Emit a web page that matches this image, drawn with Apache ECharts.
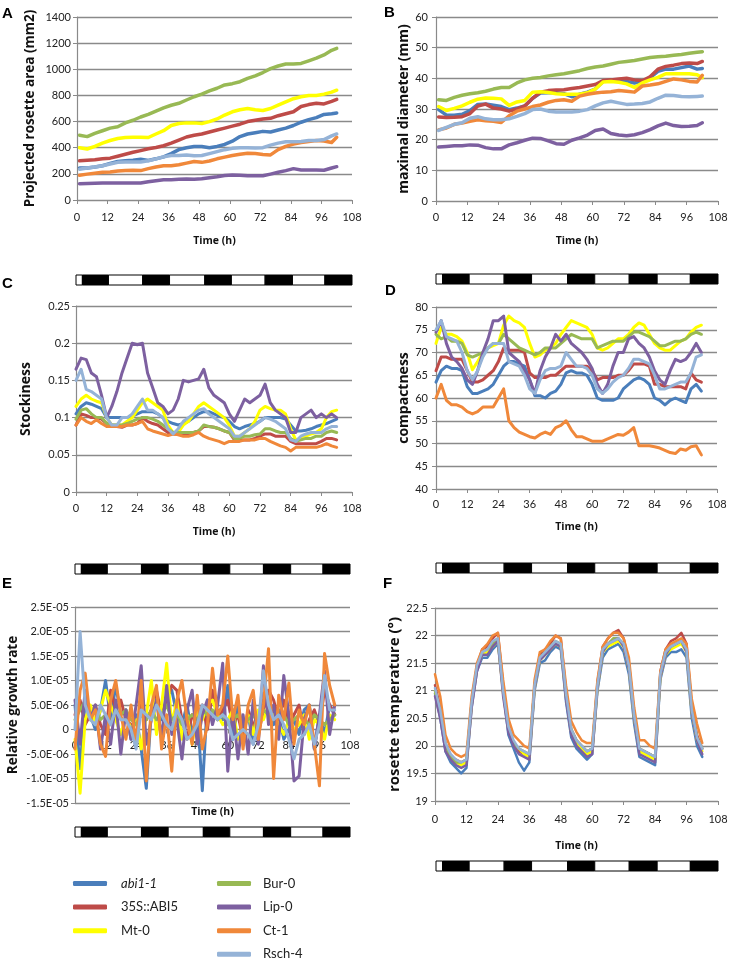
<!DOCTYPE html>
<html><head><meta charset="utf-8">
<script src="https://cdn.jsdelivr.net/npm/echarts@6/dist/echarts.min.js"></script>
<style>html,body{margin:0;padding:0;background:#fff}#c{width:730px;height:959px}</style>
</head><body><div id="c"></div>
<script>
// ---- series names / colours (legend order) ----
const names = ['abi1-1','35S::ABI5','Mt-0','Bur-0','Lip-0','Ct-1','Rsch-4'];
const colors = ['#4A7EBB','#BE4B48','#FFFF00','#98B954','#7D60A0','#F0883A','#95B3D7'];

// ---- time points (h) ----
const timeAB = [1,4,7,10,13,16,19,22,25,28,31,34,37,40,43,46,49,52,55,58,61,64,67,70,73,76,79,82,85,88,91,94,97,100,102];
const timeCF = [0,2,4,6,8,10,12,14,16,18,20,22,24,26,28,30,32,34,36,38,40,42,44,46,48,50,52,54,56,58,60,62,64,66,68,70,72,74,76,78,80,82,84,86,88,90,92,94,96,98,100,102];

// ---- light / dark periods [start h, end h, dark?] ----
const photoperiod = [[0,2.5,0],[2.5,12.7,1],[12.7,26.1,0],[26.1,36.6,1],[36.6,50.4,0],[50.4,60.8,1],[60.8,74,0],[74,84.7,1],[84.7,97.4,0],[97.4,108,1]];

// ---- A: projected rosette area (mm2), rows in names order ----
const rosetteArea = [
 [245,245,252,262,280,295,300,305,312,302,315,330,355,385,400,410,410,400,410,425,450,485,505,515,525,520,535,550,570,595,615,630,655,660,665],
 [300,305,308,315,320,335,350,365,378,392,402,415,435,458,482,495,505,520,535,550,565,580,600,610,620,625,645,660,675,715,730,740,735,755,770],
 [400,390,410,435,455,470,478,480,480,478,505,530,570,585,590,590,585,600,620,650,675,690,700,690,685,700,725,750,775,790,800,800,810,825,840],
 [495,485,510,530,550,560,590,610,635,655,680,705,725,740,765,790,810,835,855,880,890,905,930,950,975,1005,1025,1040,1040,1045,1065,1085,1110,1145,1160],
 [125,127,128,130,130,130,130,130,130,140,148,155,155,158,160,158,162,170,178,188,192,190,185,185,185,198,212,225,240,230,230,230,228,245,255],
 [190,198,205,212,215,222,226,228,225,240,252,262,262,270,282,295,288,298,315,328,340,350,358,355,348,345,385,410,428,440,448,455,452,440,480],
 [235,245,252,262,275,288,290,290,290,300,315,330,340,340,345,338,340,355,370,385,395,400,400,398,400,420,435,445,445,448,455,455,462,490,505]
];

// ---- B: maximal diameter (mm) ----
const maxDiameter = [
 [29.8,28,28,28.3,29.5,31.5,31.6,31.2,30.8,29.8,30.3,31,33.5,35.2,35.3,35.3,35,34,34.8,35.5,36.5,39,39.5,39.3,39,38.5,39,40.2,42.3,43,43,43.5,44,43,43.2],
 [27.4,27.2,27.3,27.5,28.5,31,31.6,30.3,30,29.3,30,31,33.5,35.5,36,36.2,36.3,36.7,37,37.5,38,39.3,39.5,39.8,40,39.5,39.2,40.5,43,43.9,44.3,44.8,45,44.8,45.5],
 [30.8,29.5,30.2,31,32.2,33.2,33.6,33.5,33.3,31.2,32.3,32.8,35.5,35.6,35.4,35,34.8,34.8,34.8,35.3,36.5,38.8,39,38.7,38.2,37,38.5,39.5,40.3,41.5,41.5,41.5,41.5,41.2,40.2],
 [33,32.8,33.8,34.5,35,35.3,35.8,36.5,37,37,38.5,39.5,40,40.3,40.8,41.2,41.5,42,42.5,43.2,43.7,44,44.6,45.2,45.5,45.8,46.3,46.8,47,47.2,47.5,47.8,48.2,48.5,48.7],
 [17.6,17.8,18,18,18.3,18.2,17.4,17,17,18.3,19,19.8,20.5,20.4,19.6,18.7,18.5,19.8,20.6,21.5,23,23.5,22,21.5,21.3,21.6,22.3,23.3,24.5,25.4,24.6,24.3,24.4,24.6,25.5],
 [23.2,23.8,25,25.4,26,26.5,26.2,26,25.6,27.8,29.3,30,30.8,31.3,32.2,32.8,33,32.5,34.2,34.8,35.2,35.5,35.6,36,35.8,35.5,37.5,37.8,38.2,39,39.8,39.5,39,38.8,41],
 [23,24,25,25.5,27,27.5,26.8,26.5,26.5,26.8,27.6,28.5,29.8,30,29.3,29,29,29,29.3,29.8,31,32,32.5,32,31.5,31.6,31.8,32.3,33.5,34.5,34.4,34.1,34,34.1,34.2]
];

// ---- C: stockiness ----
const stockiness = [
 [0.105,0.115,0.12,0.118,0.115,0.112,0.1,0.1,0.1,0.1, 0.1,0.102,0.105,0.108,0.108,0.108,0.105,0.1,0.095,0.092, 0.09,0.092,0.095,0.1,0.105,0.108,0.108,0.105,0.102,0.1, 0.095,0.088,0.085,0.088,0.09,0.092,0.095,0.1,0.1,0.1, 0.1,0.098,0.09,0.082,0.082,0.083,0.085,0.088,0.09,0.092, 0.095,0.098],
 [0.09,0.105,0.103,0.1,0.1,0.098,0.092,0.09,0.088,0.087, 0.09,0.09,0.092,0.1,0.095,0.092,0.09,0.085,0.08,0.078, 0.078,0.078,0.078,0.08,0.082,0.088,0.088,0.087,0.085,0.082, 0.08,0.07,0.07,0.07,0.07,0.072,0.075,0.078,0.078,0.075, 0.075,0.075,0.068,0.065,0.065,0.065,0.065,0.065,0.068,0.072, 0.072,0.07],
 [0.115,0.125,0.13,0.125,0.122,0.12,0.1,0.09,0.09,0.09, 0.095,0.1,0.11,0.12,0.125,0.12,0.115,0.11,0.09,0.08, 0.08,0.09,0.095,0.105,0.115,0.12,0.115,0.11,0.105,0.1, 0.09,0.075,0.075,0.08,0.085,0.095,0.11,0.115,0.112,0.11, 0.11,0.105,0.085,0.07,0.072,0.075,0.078,0.08,0.085,0.1, 0.108,0.11],
 [0.098,0.11,0.112,0.105,0.1,0.1,0.092,0.09,0.09,0.09, 0.092,0.095,0.098,0.1,0.1,0.098,0.095,0.09,0.085,0.08, 0.08,0.08,0.08,0.08,0.082,0.09,0.088,0.087,0.085,0.082, 0.08,0.072,0.072,0.075,0.075,0.077,0.078,0.085,0.085,0.082, 0.08,0.08,0.072,0.068,0.07,0.072,0.072,0.075,0.075,0.08, 0.082,0.08],
 [0.165,0.18,0.178,0.16,0.155,0.13,0.1,0.115,0.135,0.16, 0.18,0.2,0.198,0.2,0.16,0.14,0.12,0.115,0.105,0.11, 0.125,0.15,0.148,0.15,0.152,0.165,0.14,0.13,0.125,0.12, 0.105,0.095,0.11,0.125,0.12,0.125,0.13,0.145,0.12,0.11, 0.105,0.1,0.08,0.08,0.1,0.105,0.11,0.1,0.105,0.1, 0.105,0.1],
 [0.09,0.1,0.095,0.092,0.097,0.092,0.088,0.088,0.088,0.088, 0.09,0.09,0.092,0.095,0.085,0.082,0.08,0.078,0.076,0.078, 0.077,0.075,0.075,0.077,0.08,0.075,0.072,0.07,0.068,0.065, 0.068,0.068,0.068,0.07,0.07,0.07,0.072,0.072,0.068,0.065, 0.062,0.06,0.055,0.06,0.06,0.06,0.06,0.06,0.062,0.065, 0.062,0.06],
 [0.15,0.165,0.138,0.135,0.13,0.125,0.1,0.09,0.09,0.1, 0.1,0.105,0.115,0.125,0.11,0.11,0.105,0.1,0.085,0.078, 0.085,0.095,0.1,0.105,0.11,0.112,0.105,0.1,0.095,0.09, 0.085,0.075,0.075,0.08,0.085,0.09,0.095,0.1,0.098,0.095, 0.09,0.085,0.07,0.068,0.075,0.078,0.08,0.08,0.08,0.085, 0.088,0.088]
];

// ---- D: compactness ----
const compactness = [
 [63.5,66,67,66.5,66.5,66,62.5,61,61,61.5, 62,63,65,67,68,68,67.5,67,64,60.5, 60.5,60,61,61.5,63,65.5,66,65.5,65.5,65, 63,60,59.5,59.5,59.5,60,62,63,64,64.5, 64,63,60,59.5,58.5,59.5,60,59.5,59,62, 63,61.5],
 [66,69,69,68.5,68.5,68.5,66,63.5,63.5,64, 65,66,68,71,70.5,70.5,70.5,70,65.5,64.5, 64.5,64.5,65,65,66,67,67,67,67,67, 66,64,64.5,64.5,64.5,65,65,66,67.5,67.5, 67.5,67,63,63,62.5,62.5,62.5,62.5,62,65.5, 64,63.5],
 [72,75.5,74,74,73.5,72.5,70,66.2,68,70, 71,71.5,72,76,78,77,76.5,75.5,72,69, 69.5,70.5,71,72,74,75.5,77,76.5,76,75.5, 74,71,70.5,71,72,73,73,74,75.5,76.5, 76,74,72,71,70.5,70.5,71.5,72.5,73,74.5, 75.5,76],
 [74,73,73.5,72.5,72.5,72,69.5,69,69.5,70, 71,72,72,74,73,72,71,70.5,70,69.5, 70,71,71,71,72,73,74,73.5,73,73, 73,71,71.5,72,72.5,72.5,72.5,73.5,74.5,74.5, 74,73.5,72.5,71.5,71.5,72,72.5,72.5,73,74, 74.5,74],
 [74.5,77,72,69,68,66.5,64,63,66,70, 73,77,77,78,70,69,68,66,64,61, 66,69,71,74,72.5,74,72,71,70,68.5, 66.5,63,61,63,67,70,70,73,73.5,72, 71,69,66,64,63,66,68.5,68,68.5,70, 72,70],
 [60,63,59.5,58.5,58.5,58,57,56.5,57,58, 58,58,60,62,55,53.5,52.5,52,51.5,51.2, 52,52.5,52,53.5,54,55,53,51.5,51.5,51, 50.5,50.5,50.5,51,51.5,52,51.8,52.5,53.5,49.5, 49.5,49.5,49.3,49,48.5,48,47.8,48.8,48.5,49.3, 49.5,47.5],
 [75,77,73.5,73,72.5,70,66,64,66,69, 71,72,72,72,68,67.5,67,65,62,61, 64,66,66.5,66.5,67,70,68.5,67,67,66.5, 65,62,61,62,63.5,64.5,65,66.5,68.5,68.5, 68,67.5,65,62,62,62.5,63,63.5,63.5,65.5, 69,69.5]
];

// ---- E: relative growth rate, in units of 1E-06 ----
const growthRate = [
 [5,-8,6,3,0,4,10,2,9,3, 4,-2,3,-4,-12,4,6,2,7,8, 3,1,5,-1,4,-12.5,6,3,4,2, 9,-2,5,0,3,-3,2,6,4,1, 3,-2,0,2,-1,4,5,-4,3,-1, 5,3],
 [3,6,1,3,5,1,-1,8,4,6, 2,1,-3,5,2,4,8,3,6,9, 8,2,-2,3,1,5,0,8,2,4, 6,1,3,-2,4,1,-1,4,8,6, 2,6,1,3,5,-1,2,4,1,8, 5,3],
 [-2,-13,2,5,1,4,8,5,2,-1, 3,0,2,-4,3,10,-1,5,13.5,1, 6,-2,3,-3,4,2,5,6,3,1, 2,4,-2,1,3,-1,4,2,5,3, 1,-1,2,0,1,3,-2,2,1,-2, 3,2],
 [2,4,6,3,4,2,3,1,4,3, 4,2,1,3,2,4,2,3,5,2, 3,1,2,3,2,4,3,4,2,3, 1,2,3,1,2,3,1,4,3,2, 4,3,1,2,3,2,1,3,2,1, 2,3],
 [6,-3,8,2,5,-4,3,-3,6,-5, 4,-2,5,13,-3,2,6,-2,9,-1, 2,-6,4,8,-3,3,6,1,5,13.5, -8.5,4,-6,3,-5,6,-3,13,1,5, -2,11,3,-10.5,-9.5,2,5,-4,3,12, -1,5],
 [-4,8,11.5,2,4,-3,-5.5,6,10,3, -2,5,-3,10,-10.5,5,9,-4,3,-8.5, 6,10,2,-3,7,-4,1,12.5,3,5, 15,2,7,-4,5,8,-2,5,16.5,-10, 7,2,9.5,-3,4,1,5,-3,-11.5,15.5, 9,5],
 [0,20,5,2,1,5,3,1,4,2, 2,0,-4,4,3,2,5,3,1,0, 4,2,-2,-1,1,5,4,3,2,3, 2,-2,-1,0,-1,-3,1,12,5,2, 3,1,-2,-6,-2,-1,1,-3,1,11, 4,4]
];
const growthTickLabels = ['-1.5E-05','-1.0E-05','-5.0E-06','0','5.0E-06','1.0E-05','1.5E-05','2.0E-05','2.5E-05'];

// ---- F: rosette temperature (°) ----
const temperature = [
 [20.95,20.5,19.9,19.7,19.6,19.5,19.6,20.7,21.35,21.6, 21.6,21.75,21.85,21.0,20.2,19.95,19.7,19.55,19.7,21.0, 21.5,21.55,21.7,21.8,21.75,20.8,20.15,19.95,19.85,19.75, 19.85,21.0,21.6,21.75,21.8,21.85,21.7,21.3,20.4,19.8, 19.75,19.7,19.65,21.2,21.6,21.7,21.7,21.75,21.6,20.5, 20.0,19.8],
 [21.1,20.7,20.05,19.8,19.75,19.7,19.75,20.8,21.45,21.75, 21.8,21.95,22.05,21.1,20.35,20.05,19.9,19.85,19.85,21.1, 21.65,21.75,21.85,22.0,21.95,21.0,20.3,20.1,20.0,19.9, 19.95,21.15,21.8,21.95,22.05,22.1,21.95,21.5,20.6,19.95, 19.9,19.85,19.8,21.35,21.75,21.9,21.95,22.05,21.85,20.7, 20.2,19.95],
 [21.0,20.6,20.0,19.8,19.7,19.65,19.7,20.75,21.4,21.65, 21.7,21.8,21.9,20.95,20.3,20.05,19.95,19.85,19.8,21.05, 21.55,21.65,21.75,21.85,21.8,20.9,20.25,20.05,19.95,19.85, 19.9,21.05,21.7,21.8,21.85,21.9,21.8,21.4,20.5,19.9, 19.85,19.8,19.75,21.25,21.65,21.75,21.8,21.85,21.7,20.6, 20.1,19.9],
 [21.0,20.6,20.0,19.8,19.7,19.7,19.75,20.8,21.4,21.7, 21.75,21.85,21.95,21.0,20.3,20.05,19.95,19.9,19.85,21.1, 21.6,21.7,21.8,21.9,21.85,20.9,20.3,20.1,20.0,19.9, 19.95,21.1,21.75,21.85,21.95,21.95,21.85,21.45,20.55,19.95, 19.9,19.85,19.8,21.3,21.7,21.8,21.85,21.9,21.75,20.65, 20.15,19.95],
 [20.9,20.5,19.9,19.75,19.65,19.6,19.65,20.7,21.35,21.65, 21.65,21.8,21.9,20.9,20.25,20.0,19.85,19.8,19.75,21.05, 21.55,21.65,21.75,21.85,21.8,20.85,20.2,20.0,19.9,19.8, 19.85,21.05,21.7,21.85,21.9,21.95,21.8,21.4,20.5,19.85, 19.8,19.75,19.7,21.25,21.65,21.8,21.85,21.9,21.7,20.6, 20.1,19.85],
 [21.3,20.9,20.2,19.95,19.85,19.8,19.85,20.9,21.5,21.75, 21.85,22.0,22.05,21.2,20.5,20.2,20.1,20.0,19.95,21.2, 21.7,21.75,21.9,22.0,21.95,21.1,20.45,20.25,20.1,20.05, 20.05,21.2,21.8,21.95,22.05,22.05,21.95,21.6,20.7,20.1, 20.1,20.0,19.95,21.35,21.75,21.85,21.9,21.95,21.85,20.85, 20.4,20.05],
 [21.05,20.65,20.05,19.85,19.75,19.7,19.75,20.8,21.45,21.7, 21.75,21.9,21.95,21.0,20.35,20.1,19.95,19.9,19.85,21.1, 21.6,21.7,21.8,21.9,21.85,20.95,20.3,20.1,20.0,19.9, 19.95,21.1,21.75,21.85,21.9,21.95,21.85,21.45,20.55,19.95, 19.9,19.85,19.8,21.3,21.7,21.8,21.85,21.9,21.75,20.65, 20.15,19.95]
];

// ---- layout ----
const panels = [
 {g:[77,17,275,183], d:rosetteArea, t:timeAB, min:0, max:1400, iv:200, name:'Projected rosette area (mm2)', nf:13.5, ng:40, xg:36, xm:12, ym:6, lw:3.5},
 {g:[436,17,282,184], d:maxDiameter, t:timeAB, min:0, max:60, iv:10, name:'maximal diameter (mm)', nf:14, ng:24, xg:35, xm:11, ym:8, lw:3.5},
 {g:[76,306,276,186], d:stockiness, t:timeCF, min:0, max:0.25, iv:0.05, name:'Stockiness', nf:14, ng:43, xg:35, xm:11, ym:6, lw:3},
 {g:[436,307,281,182], d:compactness, t:timeCF, min:40, max:80, iv:5, name:'compactness', nf:14, ng:24, xg:33, xm:10, ym:8, lw:3},
 {g:[75,607,275,196], d:growthRate, t:timeCF, min:-15, max:25, iv:5, name:'Relative growth rate', nf:13.5, ng:55, xg:77, xm:10, ym:6, lw:3, labels:growthTickLabels, crossAtZero:true},
 {g:[435,608,283,193], d:temperature, t:timeCF, min:19, max:22.5, iv:0.5, name:'rosette temperature (°)', nf:15, ng:33, xg:40, xm:13, ym:7, lw:2.5}
];
const barBoxes = [[76,275,276,10],[436,274,282,10],[75,564,275,10],[436,563,282,10],[75,827,275,10],[436,861,282,10]];
const letters = [['A',2,6],['B',384,5],['C',2,276],['D',385,283],['E',2,576],['F',383,576]];

const gray = '#8a8a8a';
const tickFont = 'Lato, "Open Sans", sans-serif';
const grid = [], xAxis = [], yAxis = [], series = [];

panels.forEach((p, i) => {
  grid.push({left:p.g[0], top:p.g[1], width:p.g[2], height:p.g[3], outerBoundsMode:'none', containLabel:false});
  xAxis.push({gridIndex:i, type:'value', min:0, max:108, interval:12,
    name:'Time (h)', nameLocation:'middle', nameGap:p.xg,
    nameTextStyle:{fontFamily:'"Open Sans", sans-serif', fontWeight:'bold', fontSize:10.5, color:'#111'},
    axisLine:{show:true, onZero:false, lineStyle:{color:gray, width:1.2}},
    axisTick:{show:true, length:4, lineStyle:{color:gray}},
    axisLabel:{fontFamily:tickFont, fontSize:11, color:'#222', margin:p.xm},
    splitLine:{show:false}});
  const lab = p.labels;
  yAxis.push({gridIndex:i, type:'value', min:p.min, max:p.max, interval:p.iv,
    name:p.name, nameLocation:'middle', nameGap:p.ng,
    nameTextStyle:{fontFamily:'"Open Sans", sans-serif', fontWeight:'bold', fontSize:p.nf, color:'#111'},
    axisLine:{show:true, onZero:false, lineStyle:{color:gray, width:1.2}},
    axisTick:{show:true, length:4, lineStyle:{color:gray}},
    axisLabel:{fontFamily:tickFont, fontSize:11, color:'#222', margin:p.ym,
      formatter: lab ? (v => lab[Math.round((v - p.min) / p.iv)]) : (v => String(v))},
    splitLine:{show:true, lineStyle:{color:gray, width:1.3}}});
  p.d.forEach((vals, k) => {
    series.push({type:'line', name:names[k], xAxisIndex:i, yAxisIndex:i,
      data:p.t.map((x, j) => [x, vals[j]]), showSymbol:false, symbol:'none',
      lineStyle:{width:p.lw, color:colors[k], cap:'round', join:'round'}, itemStyle:{color:colors[k]},
      emphasis:{disabled:true}, z:2+k});
  });
});

barBoxes.forEach((b, j) => {
  const gi = panels.length + j;
  grid.push({left:b[0], top:b[1], width:b[2], height:b[3], outerBoundsMode:'none', containLabel:false});
  xAxis.push({gridIndex:gi, type:'value', min:0, max:108, show:false});
  yAxis.push({gridIndex:gi, type:'value', min:0, max:1, show:false});
  series.push({type:'custom', xAxisIndex:gi, yAxisIndex:gi, data:photoperiod, encode:{x:[0,1]}, silent:true,
    renderItem:(params, api) => {
      const s = api.coord([api.value(0), 1]);
      const e = api.coord([api.value(1), 0]);
      return {type:'rect', shape:{x:s[0], y:s[1], width:e[0]-s[0], height:e[1]-s[1]},
        style:{fill: api.value(2) ? '#000' : '#fff', stroke:'#000', lineWidth:1}};
    }});
});

const legendBase = {orient:'vertical', icon:'roundRect', itemWidth:34, itemHeight:5, itemGap:10.6, padding:0,
  height:110, selectedMode:false,
  formatter: n => n === 'abi1-1' ? '{i|' + n + '}' : n};
const legendText = pad => ({fontFamily:'Lato, sans-serif', fontSize:13, color:'#222', lineHeight:10, padding:[0,0,0,pad],
    rich:{i:{fontStyle:'italic', fontFamily:'Lato, sans-serif', fontSize:13, color:'#222', lineHeight:10}}});

const option = {
  animation:false,
  backgroundColor:'#fff',
  grid, xAxis, yAxis, series,
  legend:[
    Object.assign({}, legendBase, {left:73, top:877, data:names.slice(0,3), textStyle:legendText(9)}),
    Object.assign({}, legendBase, {left:217, top:877, data:names.slice(3), textStyle:legendText(7)})
  ],
  graphic: letters.map(l => ({type:'text', left:l[1], top:l[2], style:{text:l[0], font:'bold 15px "Liberation Sans", Arial, sans-serif', fill:'#000'}}))
};

const chart = echarts.init(document.getElementById('c'), null, {renderer:'canvas'});
chart.setOption(option);

// panel E: place its time axis where the y scale is zero (computed by the library)
panels.forEach((p, i) => {
  if (!p.crossAtZero) return;
  const yZero = chart.convertToPixel({yAxisIndex:i}, 0);
  const bottom = p.g[1] + p.g[3];
  const upd = xAxis.map(() => ({}));
  upd[i] = {offset: yZero - bottom};
  chart.setOption({xAxis: upd});
});
</script></body></html>
